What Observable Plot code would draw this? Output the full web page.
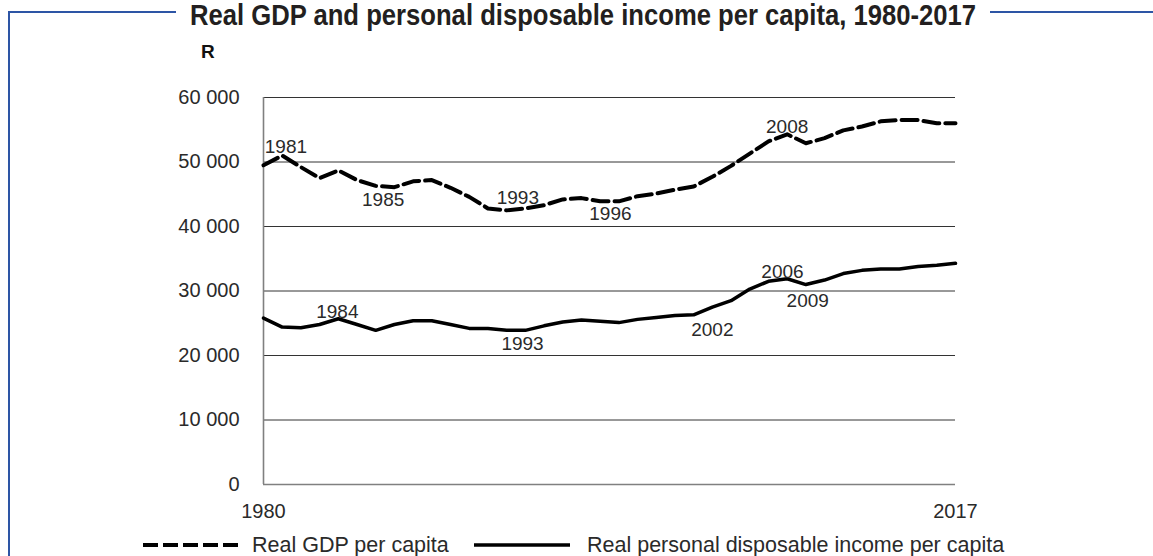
<!DOCTYPE html>
<html>
<head>
<meta charset="utf-8">
<script src="https://cdn.jsdelivr.net/npm/d3@7"></script>
<script src="https://cdn.jsdelivr.net/npm/@observablehq/plot@0.6"></script>
<style>
  html, body { margin: 0; padding: 0; background: #fff; }
  #wrap { position: relative; width: 1153px; height: 556px; overflow: hidden; background: #fff;
          font-family: "Liberation Sans", Arial, sans-serif; color: #2a2a2a; }
  #frame { position: absolute; left: 8px; top: 11px; width: 1200px; height: 700px;
           border-top: 2px solid #2d55a5; border-left: 2px solid #2d55a5; }
  #title { position: absolute; top: 0; left: 176px; width: 814px; height: 30px; background: #fff; }
  #title span { position: absolute; left: 50%; top: 1px; white-space: nowrap; transform-origin: 50% 50%;
           font-family: "Liberation Sans", Arial, sans-serif; font-weight: bold; font-size: 29px;
           line-height: 1; color: #231f20; }
  #unit { position: absolute; left: 201px; top: 42px; font-family: "Liberation Sans", sans-serif;
          font-weight: bold; font-size: 19px; line-height: 1; color: #111; }
  #chart { position: absolute; left: 0; top: 40px; }
  .leg { position: absolute; top: 535px; display: flex; align-items: center; font-size: 21.5px; line-height: 20px;
         white-space: nowrap; color: #2a2a2a; }
  .leg svg { display: block; }
</style>
</head>
<body>
<div id="wrap">
  <div id="frame"></div>
  <div id="title"><span id="titleText"></span></div>
  <div id="unit"></div>
  <div id="chart"></div>
  <div class="leg" id="leg1" style="left:143px"></div>
  <div class="leg" id="leg2" style="left:474px"></div>
</div>
<script>
// ---- data ----
const titleText = "Real GDP and personal disposable income per capita, 1980-2017";
const unitText = "R";
const years = d3.range(1980, 2018);
const gdpValues = [
  49500, 51000, 49200, 47500, 48700, 47200, 46300, 46100, 47000, 47200,
  46000, 44600, 42800, 42500, 42800, 43300, 44200, 44400, 43900, 43900,
  44700, 45100, 45700, 46200, 47700, 49400, 51300, 53200, 54300, 52900,
  53700, 54900, 55500, 56300, 56500, 56500, 56000, 56000
];
const incomeValues = [
  25800, 24400, 24300, 24800, 25700, 24800, 23900, 24800, 25400, 25400,
  24800, 24200, 24200, 23900, 23900, 24600, 25200, 25500, 25300, 25100,
  25600, 25900, 26200, 26300, 27500, 28500, 30300, 31500, 31900, 31000,
  31700, 32700, 33200, 33400, 33400, 33800, 34000, 34300
];
const seriesNames = ["Real GDP per capita", "Real personal disposable income per capita"];
const yTicks = [0, 10000, 20000, 30000, 40000, 50000, 60000];
const xTicks = [1980, 2017];
// annotation labels (text, anchor in data units)
const annoText = ["1981", "1985", "1993", "1996", "2008", "1984", "1993", "2002", "2006", "2009"];
const annoYear = [1981.2, 1986.4, 1993.6, 1998.55, 2008.0, 1983.95, 1993.85, 2004.0, 2007.75, 2009.1];
const annoValue = [52400, 44200, 44400, 41900, 55500, 26800, 21800, 24000, 33000, 28500];

// ---- build ----
const gdp = years.map((y, i) => ({year: y, value: gdpValues[i]}));
const income = years.map((y, i) => ({year: y, value: incomeValues[i]}));
const annos = annoText.map((t, i) => ({text: t, year: annoYear[i], value: annoValue[i]}));
const fmt = d3.formatLocale({decimal: ".", thousands: " ", grouping: [3], currency: ["", ""]}).format(",.0f");

const tSpan = document.getElementById("titleText");
tSpan.textContent = titleText;
const tw = tSpan.offsetWidth;
const s = tw > 0 ? 786 / tw : 1;
tSpan.style.transform = `translateX(-50%) scaleX(${s})`;
document.getElementById("unit").textContent = unitText;

const chart = Plot.plot({
  width: 1153,
  height: 490,
  marginLeft: 263,
  marginRight: 198,
  marginTop: 57,
  marginBottom: 46,
  style: {fontFamily: "'Liberation Sans', Arial, sans-serif", fontSize: "20px", color: "#2a2a2a", background: "transparent"},
  x: {domain: [1980, 2017]},
  y: {domain: [0, 60000]},
  marks: [
    Plot.gridY(yTicks, {stroke: "#333", strokeOpacity: 1, strokeWidth: 1}),
    Plot.ruleX([1980], {y1: 0, y2: 60000, stroke: "#808080", strokeWidth: 1.6}),
    Plot.ruleY([0], {stroke: "#808080", strokeWidth: 1.6}),
    Plot.axisY({ticks: yTicks, tickFormat: fmt, tickSize: 0, tickPadding: 24, label: null}),
    Plot.axisX({ticks: xTicks, tickFormat: d => String(d), tickSize: 0, tickPadding: 19, label: null}),
    Plot.line(gdp, {x: "year", y: "value", stroke: "#000", strokeWidth: 4, strokeDasharray: "16,6", strokeLinejoin: "round"}),
    Plot.line(income, {x: "year", y: "value", stroke: "#000", strokeWidth: 3.5, strokeLinejoin: "round"}),
    Plot.text(annos, {x: "year", y: "value", text: "text", fontSize: 19, fill: "#2a2a2a"})
  ]
});
document.getElementById("chart").appendChild(chart);

// legend
function legendItem(id, dash, name) {
  const el = document.getElementById(id);
  const svg = d3.create("svg").attr("width", 96).attr("height", 8);
  svg.append("line").attr("x1", 0).attr("x2", 96).attr("y1", 4).attr("y2", 4)
    .attr("stroke", "#000").attr("stroke-width", dash ? 4 : 3.5)
    .attr("stroke-dasharray", dash ? "15,5" : null);
  el.appendChild(svg.node());
  const span = document.createElement("span");
  span.style.marginLeft = dash ? "13px" : "17px";
  span.textContent = name;
  el.appendChild(span);
}
legendItem("leg1", true, seriesNames[0]);
legendItem("leg2", false, seriesNames[1]);
</script>
</body>
</html>
